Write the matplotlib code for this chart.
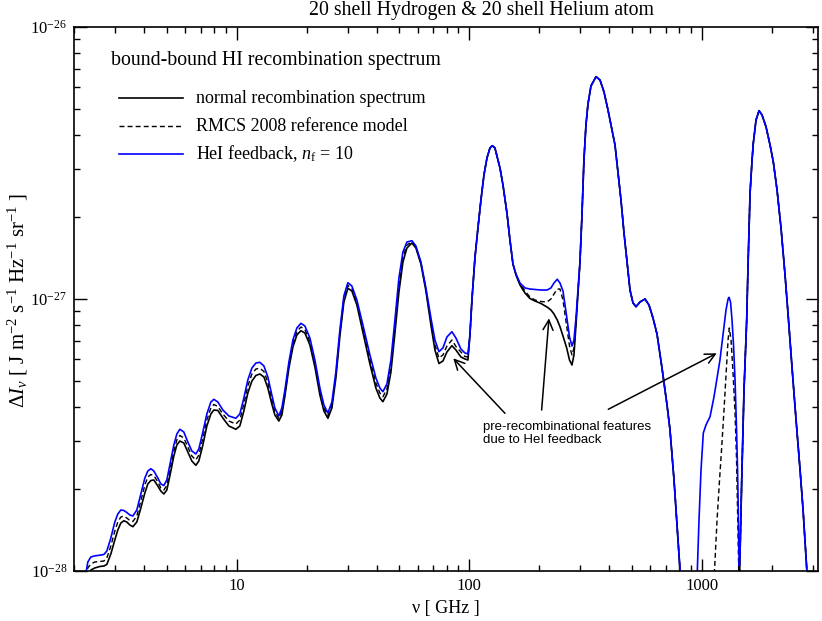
import numpy as np
import matplotlib
matplotlib.use("Agg")
import matplotlib.pyplot as plt
from matplotlib import ticker

plt.rcParams['font.family'] = ['Liberation Serif', 'DejaVu Serif']
plt.rcParams['mathtext.fontset'] = 'custom'
plt.rcParams['mathtext.rm'] = 'Liberation Serif'
plt.rcParams['mathtext.it'] = 'Liberation Serif:italic'
plt.rcParams['mathtext.bf'] = 'Liberation Serif:bold'

UNIT = 1e-28  # intensities below are given in units of 1e-28 J m^-2 s^-1 Hz^-1 sr^-1

# ---- low-frequency part: common frequency grid (GHz) for all three spectra
nu_low = [2.248, 2.293, 2.362, 2.458, 2.583, 2.687, 2.768, 2.880, 2.996, 3.086,
          3.180, 3.276, 3.374, 3.476, 3.581, 3.725, 3.876, 4.033, 4.154, 4.280,
          4.409, 4.587, 4.725, 4.867, 5.014, 5.165, 5.374, 5.536, 5.702, 5.932,
          6.173, 6.423, 6.682, 6.883, 7.163, 7.452, 7.753, 7.987, 8.310, 8.732,
          9.267, 9.931, 10.33, 10.75, 11.18, 11.64, 12.11, 12.60, 13.11, 13.63,
          14.18, 14.61, 15.20, 15.66, 16.14, 16.79, 17.47, 18.17, 18.91, 19.67,
          20.67, 21.72, 22.82, 23.74, 24.70, 25.70, 26.73, 27.81, 28.93, 30.10,
          31.32, 32.91, 34.93, 37.45, 39.72, 41.33, 42.58, 44.31, 46.10, 47.96,
          49.90, 51.92, 54.01, 56.75, 59.04, 62.04, 65.19, 68.50, 71.27, 74.15,
          77.15, 80.26, 84.33, 87.74, 92.19, 95.92, 98.81]

I_low_feedback = [0.975, 1.079, 1.126, 1.137, 1.143, 1.150, 1.184, 1.322, 1.514, 1.620,
                  1.676, 1.669, 1.641, 1.607, 1.593, 1.676, 1.919, 2.197, 2.331, 2.377,
                  2.331, 2.197, 2.089, 2.062, 2.161, 2.453, 2.905, 3.189, 3.319, 3.244,
                  2.980, 2.762, 2.693, 2.809, 3.244, 3.778, 4.181, 4.278, 4.181, 3.908,
                  3.715, 3.643, 3.778, 4.325, 5.037, 5.576, 5.817, 5.852, 5.671, 5.167,
                  4.437, 3.975, 3.715, 3.975, 4.628, 5.867, 7.068, 7.825, 8.141, 7.957,
                  7.188, 5.967, 4.708, 4.076, 3.810, 4.181, 5.391, 7.691, 10.26, 11.48,
                  11.16, 9.916, 8.024, 6.226, 5.124, 4.708, 4.562, 4.869, 5.967, 8.371,
                  11.95, 14.89, 16.20, 16.38, 15.66, 13.68, 10.98, 8.514, 7.068, 6.403,
                  6.606, 7.250, 7.582, 7.188, 6.549, 6.333, 6.279]

I_low_normal = [0.927, 0.959, 1.008, 1.026, 1.039, 1.043, 1.057, 1.155, 1.300, 1.415,
                1.501, 1.530, 1.514, 1.476, 1.455, 1.514, 1.704, 1.935, 2.089, 2.151,
                2.161, 2.053, 1.968, 1.919, 1.985, 2.235, 2.647, 2.905, 3.005, 2.955,
                2.739, 2.537, 2.447, 2.537, 2.905, 3.413, 3.778, 3.908, 3.892, 3.652,
                3.413, 3.319, 3.413, 3.875, 4.512, 4.994, 5.234, 5.301, 5.167, 4.708,
                4.111, 3.746, 3.560, 3.746, 4.399, 5.576, 6.661, 7.373, 7.646, 7.499,
                6.775, 5.623, 4.437, 3.875, 3.643, 3.975, 5.124, 7.311, 9.750, 10.95,
                10.70, 9.505, 7.563, 5.768, 4.708, 4.325, 4.192, 4.474, 5.391, 7.499,
                10.61, 13.68, 15.40, 16.07, 15.40, 13.45, 10.70, 8.024, 6.494, 5.793,
                5.917, 6.386, 6.735, 6.494, 6.121, 6.018, 5.967]

I_low_rmcs = [0.950, 1.026, 1.061, 1.079, 1.084, 1.088, 1.116, 1.236, 1.403, 1.514,
              1.579, 1.593, 1.566, 1.533, 1.520, 1.593, 1.809, 2.071, 2.216, 2.263,
              2.244, 2.125, 2.019, 1.985, 2.062, 2.331, 2.762, 3.031, 3.150, 3.083,
              2.857, 2.647, 2.559, 2.670, 3.083, 3.590, 3.975, 4.094, 4.025, 3.778,
              3.560, 3.471, 3.590, 4.111, 4.788, 5.301, 5.529, 5.562, 5.414, 4.932,
              4.270, 3.858, 3.637, 3.858, 4.512, 5.720, 6.861, 7.595, 7.889, 7.725,
              6.979, 5.793, 4.570, 3.975, 3.730, 4.076, 5.255, 7.499, 10.00, 11.21,
              10.93, 9.707, 7.790, 5.993, 4.912, 4.512, 4.372, 4.669, 5.671, 7.923,
              11.26, 14.27, 15.80, 16.20, 15.53, 13.56, 10.84, 8.266, 6.775, 6.069,
              6.226, 6.718, 7.068, 6.690, 6.386, 6.147, 6.121]

# ---- 100-155 GHz: identical for all three
nu_c1 = [100.8, 102.8, 105.9, 109.1, 112.4, 115.8, 119.3, 122.9, 125.7, 129.1,
         135.7, 139.8, 145.4, 149.8, 154.3]
I_c1 = [7.373, 9.916, 14.15, 18.24, 23.12, 28.57, 32.99, 35.92, 36.62, 35.92,
        30.31, 26.25, 20.71, 16.48, 13.45]

# ---- 160-300 GHz: pre-recombinational feature
nu_f1 = [159.0, 165.4, 173.8, 182.6, 191.9, 203.6, 216.1, 224.8, 231.6, 239.3,
         245.8, 253.2, 262.7, 270.1, 276.8, 282.3, 288.0, 293.8, 299.6]
I_f1_feedback = [12.36, 11.45, 10.98, 10.88, 10.84, 10.79, 10.79, 10.98, 11.45, 11.82,
                 11.45, 10.70, 8.609, 7.250, 6.718, 7.068, 8.514, 10.79, 13.68]
I_f1_normal = [12.25, 11.26, 10.52, 10.04, 9.832, 9.627, 9.346, 9.112, 8.809, 8.371,
               7.910, 7.311, 6.606, 5.967, 5.720, 6.226, 8.024, 10.52, 13.68]
I_f1_rmcs = [12.31, 11.36, 10.70, 10.17, 9.916, 9.790, 9.750, 10.00, 10.43, 10.88,
             10.88, 9.916, 7.957, 6.718, 6.226, 6.606, 8.230, 10.61, 13.68]

# ---- 300-820 GHz: identical for all three
nu_c2 = [305.6, 311.6, 317.9, 324.3, 334.1, 351.2, 365.3, 380.1, 395.4, 411.4,
         423.8, 436.5, 449.7, 463.3, 477.3, 491.7, 506.5, 521.8, 542.8, 570.3,
         593.4, 617.4, 642.3, 674.9, 709.3, 730.6, 760.2, 783.1, 806.7, 818.8]
I_c2 = [20.37, 32.43, 43.63, 52.12, 60.70, 65.68, 63.86, 57.68, 49.54, 41.82,
        36.84, 29.31, 23.12, 17.48, 13.68, 10.79, 9.667, 9.370, 9.750, 10.00,
        9.505, 8.514, 7.435, 5.576, 4.076, 3.299, 2.161, 1.476, 1.008, 0.851]

# ---- 950-1460 GHz feature
nu_f2_feedback = [954.5, 973.6, 993.1, 1016, 1043, 1086, 1129, 1164, 1198, 1235,
                  1272, 1298, 1311, 1330, 1350, 1370, 1391, 1412, 1426, 1437,
                  1444, 1451, 1461]
I_f2_feedback = [0.927, 1.540, 2.351, 3.216, 3.442, 3.693, 4.362, 5.124, 5.967, 7.373,
                 9.112, 10.00, 10.14, 9.750, 8.371, 6.775, 5.037, 3.299, 2.351, 1.634,
                 1.194, 1.043, 1.145]
nu_f2_rmcs = [1124, 1141, 1164, 1193, 1219, 1247, 1272, 1298, 1314, 1337,
              1363, 1391, 1412, 1426, 1440, 1447, 1461]
I_f2_rmcs = [0.851, 1.098, 1.540, 2.161, 2.857, 3.908, 5.255, 7.068, 7.825, 7.068,
             5.391, 3.810, 2.559, 1.676, 1.098, 0.851, 1.145]
nu_f2_normal = [1451, 1461]
I_f2_normal = [0.851, 1.145]

# ---- 1480-2870 GHz: identical for all three
nu_hi = [1486, 1520, 1561, 1582, 1614, 1646, 1667, 1712, 1764, 1817,
         1891, 1967, 2032, 2108, 2193, 2282, 2358, 2446, 2545, 2648,
         2728, 2829, 2866]
I_hi = [2.161, 4.628, 8.371, 13.34, 24.53, 32.43, 37.47, 45.51, 49.24, 47.49,
        42.90, 36.84, 31.89, 25.16, 18.24, 12.25, 8.514, 5.576, 3.590, 2.351,
        1.676, 1.008, 0.851]

x_major = [10, 100, 1000]
y_major = [1e-28, 1e-27, 1e-26]


def build(low, f1, nu2, i2):
    nu = nu_low + nu_c1 + nu_f1 + nu_c2 + [np.nan] + nu2 + nu_hi
    ii = low + I_c1 + f1 + I_c2 + [np.nan] + i2 + I_hi
    return np.array(nu, float), np.array(ii, float) * UNIT


nu_n, I_n = build(I_low_normal, I_f1_normal, nu_f2_normal, I_f2_normal)
nu_r, I_r = build(I_low_rmcs, I_f1_rmcs, nu_f2_rmcs, I_f2_rmcs)
nu_b, I_b = build(I_low_feedback, I_f1_feedback, nu_f2_feedback, I_f2_feedback)

W, H = 822, 621
fig = plt.figure(figsize=(W / 100, H / 100), dpi=100)
ax = fig.add_axes([74 / W, (H - 571) / H, 744 / W, 544 / H])

lw = 1.2
dash = (0, (3.5, 2.2))
ax.plot(nu_n, I_n, color='black', lw=lw, solid_joinstyle='round')
ax.plot(nu_r, I_r, color='black', lw=lw * 0.85, ls=dash)
ax.plot(nu_b, I_b, color='#0000ff', lw=lw, solid_joinstyle='round')

ax.set_xscale('log')
ax.set_yscale('log')
ax.set_xlim(2.0, 10 ** 3.5)
ax.set_ylim(1e-28, 1e-26)

ax.xaxis.set_major_locator(ticker.FixedLocator(x_major))
ax.xaxis.set_minor_locator(ticker.LogLocator(base=10, subs=np.arange(2, 10), numticks=20))
ax.xaxis.set_major_formatter(ticker.FuncFormatter(lambda v, p: '%d' % round(v)))
ax.xaxis.set_minor_formatter(ticker.NullFormatter())
ax.yaxis.set_major_locator(ticker.FixedLocator(y_major))
ax.yaxis.set_major_formatter(ticker.LogFormatterSciNotation())
ax.yaxis.set_minor_locator(ticker.LogLocator(base=10, subs=np.arange(2, 10), numticks=20))
ax.yaxis.set_minor_formatter(ticker.NullFormatter())

ax.tick_params(which='both', direction='in', top=True, right=True, labelsize=12, width=1.0)
ax.tick_params(which='major', length=9)
ax.tick_params(which='minor', length=4.5)
ax.tick_params(axis='y', pad=5)
ax.tick_params(axis='x', pad=5)
for s in ax.spines.values():
    s.set_linewidth(1.2)

# legend (drawn manually to follow the original layout)
fs = 13
ax.text(0.0493, 0.9393, 'bound-bound HI recombination spectrum', transform=ax.transAxes,
        fontsize=14.3, ha='left', va='center')
rows = [0.8689, 0.8180, 0.7665]
ax.plot([0.0609, 0.1461], [rows[0]] * 2, transform=ax.transAxes, color='black', lw=lw)
ax.plot([0.0609, 0.1461], [rows[1]] * 2, transform=ax.transAxes, color='black',
        lw=lw * 0.85, ls=dash)
ax.plot([0.0609, 0.1461], [rows[2]] * 2, transform=ax.transAxes, color='#0000ff', lw=lw)
ax.text(0.1640, rows[0], 'normal recombination spectrum', transform=ax.transAxes,
        fontsize=fs, ha='left', va='center')
ax.text(0.1640, rows[1], 'RMCS 2008 reference model', transform=ax.transAxes,
        fontsize=fs, ha='left', va='center')
ax.text(0.1640, rows[2], r'HeI feedback, $n_\mathrm{f}$ = 10', transform=ax.transAxes,
        fontsize=fs, ha='left', va='center')

# annotation
ax.text(114.7, 3.20e-28, 'pre-recombinational features\ndue to HeI feedback',
        family=['Liberation Sans', 'DejaVu Sans'], fontsize=9.5, ha='left', va='center',
        linespacing=1.15)
arrows = [((85.44, 6.053e-28), (142.6, 3.800e-28)),
          ((220.4, 8.492e-28), (205.0, 3.908e-28)),
          ((1160, 6.316e-28), (396.6, 3.931e-28))]
for tip, tail in arrows:
    ax.annotate('', xy=tip, xytext=tail,
                arrowprops=dict(arrowstyle='->', lw=1.1, color='black',
                                mutation_scale=18, shrinkA=0, shrinkB=0))

fig.text(481 / W, 1 - 10 / H, '20 shell Hydrogen & 20 shell Helium atom',
         fontsize=14.3, ha='center', va='center')
fig.text(446 / W, 1 - 608 / H, 'ν [ GHz ]', fontsize=13, ha='center', va='center')
fig.text(18 / W, 1 - 300 / H,
         r'$\Delta I_\nu$ [ J m$^{-2}$ s$^{-1}$ Hz$^{-1}$ sr$^{-1}$ ]',
         fontsize=15, rotation=90, ha='center', va='center')

fig.savefig('out.png', dpi=100)
